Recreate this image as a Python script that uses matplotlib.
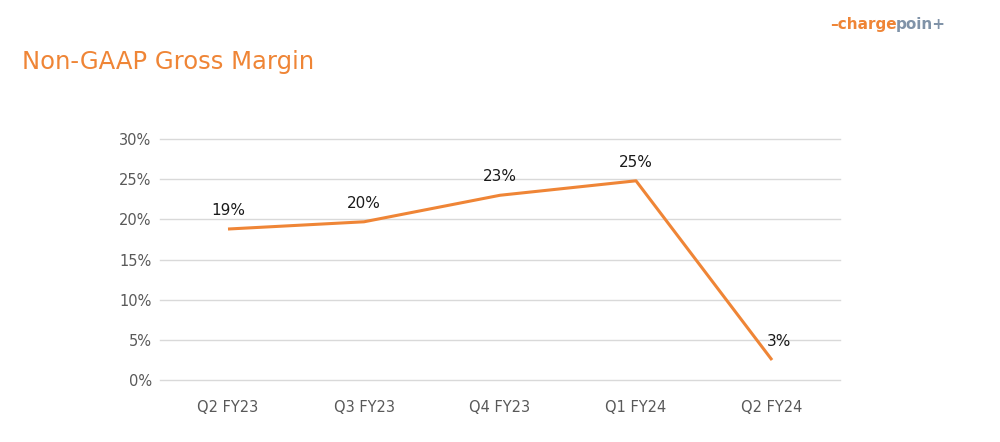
import matplotlib
matplotlib.use('Agg')
from matplotlib import pyplot as plt

quarters = ['Q2 FY23', 'Q3 FY23', 'Q4 FY23', 'Q1 FY24', 'Q2 FY24']
margin = [18.8, 19.7, 23.0, 24.8, 2.5]
labels = ['19%', '20%', '23%', '25%', '3%']
yticks = [0, 5, 10, 15, 20, 25, 30]

orange = '#EF8536'

fig = plt.figure(figsize=(10, 4.42), dpi=100)
ax = fig.add_axes([0.16, 0.14, 0.68, 0.5455])

x = range(len(quarters))
ax.plot(x, margin, color=orange, lw=2.2, solid_capstyle='butt')
for i, (v, lab) in enumerate(zip(margin, labels)):
    dx = 5 if i == len(quarters) - 1 else 0
    ax.annotate(lab, (i, v), xytext=(dx, 8), textcoords='offset points',
                ha='center', va='bottom', fontsize=11, color='#1a1a1a')

ax.set_xlim(-0.5, len(quarters) - 0.5)
ax.set_ylim(0, 30)
ax.set_yticks(yticks)
ax.set_yticklabels(['{}%'.format(t) for t in yticks])
ax.set_xticks(list(x))
ax.set_xticklabels(quarters)
ax.tick_params(length=0, labelsize=10.5, labelcolor='#595959')
ax.tick_params(axis='y', pad=6)
ax.tick_params(axis='x', pad=14)
ax.grid(axis='y', color='#d9d9d9', lw=1)
for gl in ax.get_ygridlines():
    gl.set_clip_on(False)
ax.set_axisbelow(True)
for s in ax.spines.values():
    s.set_visible(False)

fig.text(0.022, 0.845, 'Non-GAAP Gross Margin', color=orange, fontsize=17.5,
         ha='left', va='baseline')

# logo
fig.text(0.83, 0.945, '\u2013charge', color=orange, fontsize=11, fontweight='bold',
         ha='left', va='center')
fig.text(0.896, 0.945, 'poin+', color='#8093a8', fontsize=11, fontweight='bold',
         ha='left', va='center')

fig.savefig('out.png', dpi=100, facecolor='white')
